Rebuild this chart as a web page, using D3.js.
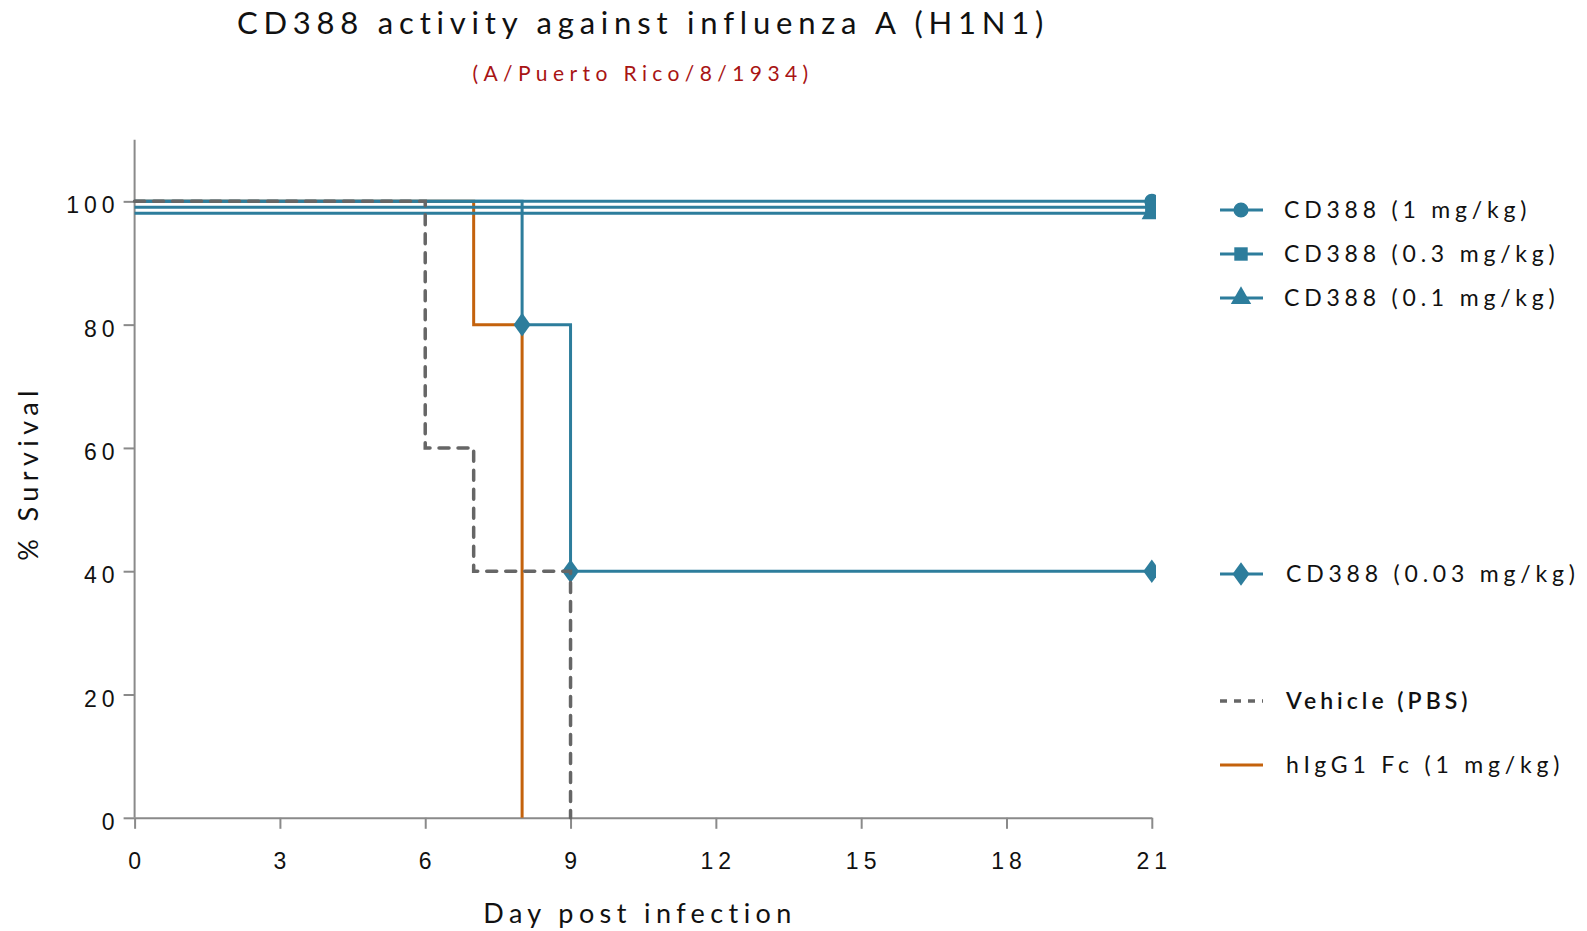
<!DOCTYPE html>
<html>
<head>
<meta charset="utf-8">
<script src="https://cdn.jsdelivr.net/npm/d3@7"></script>
<style>
	body { margin: 0; background: #fff; }
	svg { font-family: Lato, "Open Sans", sans-serif; }
</style>
</head>
<body>
<script>
// chart data
var xTicks = [0, 3, 6, 9, 12, 15, 18, 21];
var yTicks = [0, 20, 40, 60, 80, 100];
var seriesNames = ['CD388 (1 mg/kg)', 'CD388 (0.3 mg/kg)', 'CD388 (0.1 mg/kg)',
	'CD388 (0.03 mg/kg)', 'Vehicle (PBS)', 'hIgG1 Fc (1 mg/kg)'];
var cd388_1 = [[0, 100], [21, 100]];
var cd388_03 = [[0, 100], [21, 100]];
var cd388_01 = [[0, 100], [21, 100]];
var cd388_003 = [[0, 100], [8, 80], [9, 40], [21, 40]];
var vehicle = [[0, 100], [6, 60], [7, 40], [9, 0]];
var higg1 = [[0, 100], [7, 80], [8, 0]];

var blue = '#2d7d9c', orange = '#c4620c', grey = '#666';

// look of each series (draw order below)
var series = [
	{ name: seriesNames[5], data: higg1, color: orange, marker: null, dash: null, off: 0, legendY: 765 },
	{ name: seriesNames[0], data: cd388_1, color: blue, marker: d3.symbolCircle, dash: null, off: 0, legendY: 210 },
	{ name: seriesNames[1], data: cd388_03, color: blue, marker: d3.symbolSquare, dash: null, off: 6, legendY: 254 },
	{ name: seriesNames[2], data: cd388_01, color: blue, marker: d3.symbolTriangle, dash: null, off: 12, legendY: 298 },
	{ name: seriesNames[3], data: cd388_003, color: blue, marker: d3.symbolDiamond, dash: null, off: 0, legendY: 574 },
	{ name: seriesNames[4], data: vehicle, color: grey, marker: null, dash: '10,9', off: 0, legendY: 701, bold: true }
];

var W = 1587, H = 931;
var x = d3.scaleLinear().domain([0, 21]).range([134.6, 1151.8]);
var y = d3.scaleLinear().domain([0, 110]).range([817.8, 139.7]);

var svg = d3.select('body').append('svg')
	.attr('width', W)
	.attr('height', H);

svg.append('defs').append('clipPath')
	.attr('id', 'plot-clip')
	.append('rect')
		.attr('x', 120).attr('y', 120)
		.attr('width', 1036).attr('height', 720);

// title
svg.append('text')
	.attr('x', 643).attr('y', 34)
	.attr('text-anchor', 'middle')
	.style('font-size', '31px')
	.style('letter-spacing', '5.8px')
	.style('fill', '#111')
	.text('CD388 activity against influenza A (H1N1)');

svg.append('text')
	.attr('x', 643).attr('y', 81)
	.attr('text-anchor', 'middle')
	.style('font-size', '21px')
	.style('letter-spacing', '5.4px')
	.style('fill', '#a81414')
	.text('(A/Puerto Rico/8/1934)');

// axes
var xAxis = d3.axisBottom(x).tickValues(xTicks).tickSize(11).tickPadding(24).tickSizeOuter(0);
var yAxis = d3.axisLeft(y).tickValues(yTicks).tickSize(11).tickPadding(4).tickSizeOuter(0);

var gx = svg.append('g')
	.attr('transform', 'translate(0,' + y(0) + ')')
	.call(xAxis);
var gy = svg.append('g')
	.attr('transform', 'translate(' + x(0) + ',0)')
	.call(yAxis);

[gx, gy].forEach(function(g) {
	g.select('.domain').attr('stroke', '#8a8a8a').attr('stroke-width', 2);
	g.selectAll('.tick line').attr('stroke', '#8a8a8a').attr('stroke-width', 2);
	g.selectAll('.tick text')
		.style('font-size', '23px')
		.style('letter-spacing', '5px')
		.style('fill', '#111');
});
gy.select('.domain').attr('d', 'M0,' + y(0) + 'V' + y(110));
gy.selectAll('.tick text').attr('dy', '0.5em');
gx.selectAll('.tick text').attr('dx', '2px');

svg.append('text')
	.attr('x', 640).attr('y', 923)
	.attr('text-anchor', 'middle')
	.style('font-size', '27px')
	.style('letter-spacing', '5.4px')
	.style('fill', '#111')
	.text('Day post infection');

svg.append('text')
	.attr('transform', 'translate(38,473) rotate(-90)')
	.attr('text-anchor', 'middle')
	.style('font-size', '27px')
	.style('letter-spacing', '5.4px')
	.style('fill', '#111')
	.text('% Survival');

// survival curves
var line = d3.line()
	.curve(d3.curveStepAfter)
	.x(function(d) { return x(d[0]); })
	.y(function(d) { return y(d[1]); });

var plot = svg.append('g').attr('clip-path', 'url(#plot-clip)');

series.forEach(function(s) {
	var g = plot.append('g').attr('transform', 'translate(0,' + s.off + ')');
	g.append('path')
		.datum(s.data)
		.attr('d', line)
		.attr('fill', 'none')
		.attr('stroke', s.color)
		.attr('stroke-width', s.dash ? 3.5 : 3)
		.attr('stroke-linecap', s.dash ? 'round' : 'butt')
		.attr('stroke-dasharray', s.dash);
	if (s.marker) {
		g.selectAll('path.mark')
			.data(s.data.slice(1))
			.enter().append('path')
				.attr('class', 'mark')
				.attr('transform', function(d) {
					var t = 'translate(' + x(d[0]) + ',' + y(d[1]) + ')';
					return s.marker === d3.symbolDiamond ? t + ' scale(1.25,1)' : t;
				})
				.attr('d', d3.symbol().type(s.marker).size(s.marker === d3.symbolDiamond ? 160 : 180))
				.attr('fill', s.color);
	}
});

// legend
var legend = svg.append('g');
series.forEach(function(s) {
	var g = legend.append('g').attr('transform', 'translate(0,' + s.legendY + ')');
	g.append('line')
		.attr('x1', 1220).attr('x2', 1263)
		.attr('stroke', s.color)
		.attr('stroke-width', s.dash ? 3.5 : 3)
		.attr('stroke-dasharray', s.dash ? '7,7' : null);
	if (s.marker) {
		g.append('path')
			.attr('transform', 'translate(1241,0)' + (s.marker === d3.symbolDiamond ? ' scale(1.25,1)' : ''))
			.attr('d', d3.symbol().type(s.marker).size(s.marker === d3.symbolDiamond ? 160 : 180))
			.attr('fill', s.color);
	}
	g.append('text')
		.attr('x', s.bold || s.name.charAt(0) === 'h' || s.marker === d3.symbolDiamond ? 1286 : 1284)
		.attr('y', 8)
		.style('font-size', '23px')
		.style('letter-spacing', s.bold ? '4px' : '4.8px')
		.style('font-weight', s.bold ? 600 : null)
		.style('fill', '#111')
		.text(s.name);
});
</script>
</body>
</html>
